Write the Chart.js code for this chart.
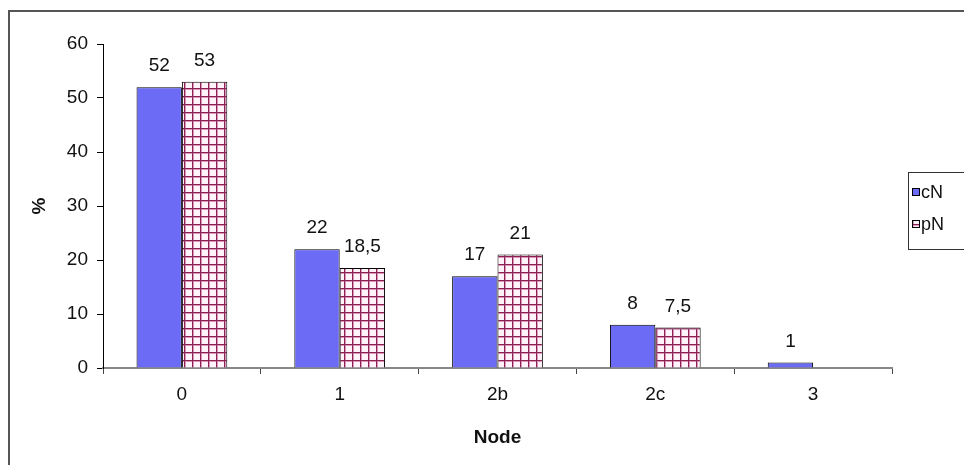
<!DOCTYPE html>
<html><head><meta charset="utf-8">
<script src="https://cdn.jsdelivr.net/npm/chart.js@4/dist/chart.umd.min.js"></script>
<style>html,body{margin:0;padding:0;background:#fff;overflow:hidden}</style>
</head><body>
<canvas id="c" width="964" height="465"></canvas>
<script>
// Node distribution, percentage per node category
const categories = ['0', '1', '2b', '2c', '3'];
const cNValues = [52, 22, 17, 8, 1];
const pNValues = [53, 18.5, 21, 7.5, null];
const seriesNames = ['cN', 'pN'];
const yTickValues = [0, 10, 20, 30, 40, 50, 60];

const FONT = 'Liberation Sans, Arial, sans-serif';
const FSIZE = 19;
const BLUE = '#6b6bf5';

// Checked fill for the pN bars
function makeCheck() {
  const s = 8;
  const cv = document.createElement('canvas');
  cv.width = s; cv.height = s;
  const g = cv.getContext('2d');
  g.fillStyle = '#fff2fb';
  g.fillRect(0, 0, s, s);
  g.fillStyle = '#d79ab9';
  g.fillRect(0, 0, s, 2);
  g.fillRect(0, 0, 2, s);
  g.fillStyle = '#8e1f52';
  g.fillRect(0, 0, s, 1);
  g.fillRect(0, 0, 1, s);
  return g.createPattern(cv, 'repeat');
}
const ctx = document.getElementById('c').getContext('2d');
const check = makeCheck();

const fmt = v => String(v).replace('.', ',');

const frame = {
  id: 'frame',
  beforeDraw(chart) {
    const c = chart.ctx;
    c.save();
    c.fillStyle = '#fff';
    c.fillRect(0, 0, chart.width, chart.height);
    c.strokeStyle = '#555';
    c.lineWidth = 2;
    c.strokeRect(9, 11, 1200, 1200);
    c.restore();
  }
};

const valueLabels = {
  id: 'valueLabels',
  afterDatasetsDraw(chart) {
    const c = chart.ctx;
    c.save();
    c.font = FSIZE + 'px ' + FONT;
    c.fillStyle = '#111';
    c.textAlign = 'center';
    c.textBaseline = 'alphabetic';
    chart.data.datasets.forEach((ds, i) => {
      chart.getDatasetMeta(i).data.forEach((bar, j) => {
        const v = ds.data[j];
        if (v === null || v === undefined) return;
        c.fillText(fmt(v), bar.x, bar.y - 16);
      });
    });
    c.restore();
  }
};

const boxLegend = {
  id: 'boxLegend',
  afterDraw(chart) {
    const c = chart.ctx;
    c.save();
    c.strokeStyle = '#333';
    c.lineWidth = 1;
    c.strokeRect(908.5, 172.5, 80, 77);
    c.font = '18px ' + FONT;
    c.textBaseline = 'middle';
    const ys = [192, 224];
    chart.data.datasets.forEach((ds, i) => {
      c.fillStyle = ds.backgroundColor;
      c.fillRect(912, ys[i] - 4, 8, 8);
      c.strokeStyle = '#000';
      c.strokeRect(912.5, ys[i] - 3.5, 7, 7);
      c.fillStyle = '#111';
      c.fillText(ds.label, 921, ys[i] + 1);
    });
    c.restore();
  }
};

new Chart(ctx, {
  type: 'bar',
  data: {
    labels: categories,
    datasets: [
      { label: seriesNames[0], data: cNValues, backgroundColor: BLUE, borderColor: '#000', borderWidth: 1 },
      { label: seriesNames[1], data: pNValues, backgroundColor: check, borderColor: '#000', borderWidth: 1 }
    ]
  },
  options: {
    responsive: false,
    animation: false,
    events: [],
    categoryPercentage: 0.575,
    barPercentage: 1,
    layout: { padding: { left: 10, right: 72, top: 44, bottom: 0 } },
    plugins: { legend: { display: false }, tooltip: { enabled: false } },
    scales: {
      x: {
        offset: true,
        grid: { offset: true, drawOnChartArea: false, tickLength: 6, color: '#444' },
        border: { color: '#888', width: 2 },
        ticks: { padding: 9, color: '#111', font: { family: FONT, size: FSIZE } },
        title: { display: true, text: 'Node', color: '#111', padding: { top: 4, bottom: 16 },
                 font: { family: FONT, size: FSIZE, weight: 'bold' } },
        afterFit(s) { s.height = 97; }
      },
      y: {
        min: 0, max: 60,
        afterBuildTicks(s) { s.ticks = yTickValues.map(v => ({ value: v })); },
        grid: { drawOnChartArea: false, tickLength: 6, color: '#000' },
        border: { color: '#000', width: 1 },
        ticks: { padding: 9, color: '#111', font: { family: FONT, size: FSIZE } },
        title: { display: true, text: '%', color: '#111', padding: { top: 18, bottom: 4 },
                 font: { family: FONT, size: FSIZE, weight: 'bold' } },
        afterFit(s) { s.width = 93; }
      }
    }
  },
  plugins: [frame, valueLabels, boxLegend]
});
</script>
</body></html>
